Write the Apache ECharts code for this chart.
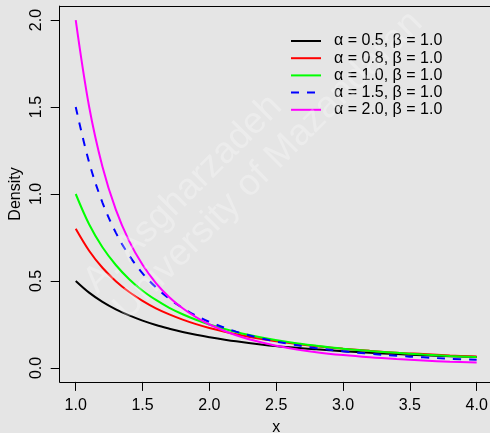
<!DOCTYPE html>
<html>
<head>
<meta charset="utf-8">
<script src="https://cdn.jsdelivr.net/npm/echarts@6/dist/echarts.min.js"></script>
<style>
  html, body { margin: 0; padding: 0; background: #e5e5e5; }
  #chart { width: 490px; height: 433px; }
</style>
</head>
<body>
<div id="chart"></div>
<script>
// Pareto densities, beta = 1, sampled along x
const xValues = [1.0, 1.1, 1.2, 1.3, 1.4, 1.5, 1.6, 1.7, 1.8, 1.9, 2.0,
                 2.2, 2.4, 2.6, 2.8, 3.0, 3.2, 3.4, 3.6, 3.8, 4.0];

const densA05 = [0.500, 0.433, 0.380, 0.337, 0.302, 0.272, 0.247, 0.226, 0.207, 0.191, 0.177,
                 0.153, 0.134, 0.119, 0.107, 0.096, 0.087, 0.080, 0.073, 0.067, 0.063];
const densA08 = [0.800, 0.674, 0.576, 0.499, 0.437, 0.386, 0.343, 0.308, 0.278, 0.252, 0.230,
                 0.194, 0.165, 0.143, 0.125, 0.111, 0.099, 0.088, 0.080, 0.072, 0.066];
const densA10 = [1.000, 0.826, 0.694, 0.592, 0.510, 0.444, 0.391, 0.346, 0.309, 0.277, 0.250,
                 0.207, 0.174, 0.148, 0.128, 0.111, 0.098, 0.087, 0.077, 0.069, 0.063];
const densA15 = [1.500, 1.182, 0.951, 0.778, 0.647, 0.544, 0.463, 0.398, 0.345, 0.301, 0.265,
                 0.209, 0.168, 0.138, 0.114, 0.096, 0.082, 0.070, 0.061, 0.053, 0.047];
const densA20 = [2.000, 1.503, 1.157, 0.910, 0.729, 0.593, 0.488, 0.407, 0.343, 0.292, 0.250,
                 0.188, 0.145, 0.114, 0.091, 0.074, 0.061, 0.051, 0.043, 0.036, 0.031];

const seriesNames = ['α = 0.5, β = 1.0', 'α = 0.8, β = 1.0', 'α = 1.0, β = 1.0',
                     'α = 1.5, β = 1.0', 'α = 2.0, β = 1.0'];
const seriesValues = [densA05, densA08, densA10, densA15, densA20];
const seriesColors = ['#000000', '#ff0000', '#00ff00', '#0000ff', '#ff00ff'];
const seriesDash = ['solid', 'solid', 'solid', [8, 8], 'solid'];

const xTicks = [1.0, 1.5, 2.0, 2.5, 3.0, 3.5, 4.0];
const yTicks = [0.0, 0.5, 1.0, 1.5, 2.0];

const watermarkLines = ['A. Asgharzadeh', 'University of Mazandaran'];

const FONT = '"Liberation Sans", Arial, Helvetica, sans-serif';
const X_MIN = 0.88, X_MAX = 4.12, Y_MIN = -0.08, Y_MAX = 2.08;

const chart = echarts.init(document.getElementById('chart'), null, { renderer: 'canvas' });

const series = seriesValues.map((vals, i) => ({
  name: seriesNames[i],
  type: 'line',
  xAxisIndex: 0, yAxisIndex: 0,
  data: xValues.map((x, j) => [x, vals[j]]),
  showSymbol: false,
  symbol: 'none',
  smooth: 0.35,
  lineStyle: { color: seriesColors[i], width: 2, type: seriesDash[i] },
  itemStyle: { color: seriesColors[i] },
  emphasis: { disabled: true },
  z: 2
}));

const boxLine = { show: true, onZero: false, lineStyle: { color: '#000', width: 1 } };

chart.setOption({
  backgroundColor: '#e5e5e5',
  animation: false,
  textStyle: { fontFamily: FONT },
  grid: {
    left: 59.7, top: 6.1, width: 433, height: 375.8,
    outerBoundsMode: 'none',
    containLabel: false,
    show: false
  },
  legend: {
    orient: 'vertical',
    left: 290, top: 33,
    padding: 0,
    itemWidth: 30, itemHeight: 14, itemGap: 1.2,
    itemStyle: { opacity: 0 },
    textStyle: { fontSize: 16, color: '#000', fontFamily: FONT, lineHeight: 16, padding: [0, 0, 0, 8] },
    data: seriesNames,
    selectedMode: false
  },
  xAxis: [
    {
      type: 'value', min: X_MIN, max: X_MAX, position: 'bottom',
      name: 'x', nameLocation: 'middle', nameGap: 38, nameMoveOverlap: false,
      nameTextStyle: { fontSize: 16, color: '#000', fontFamily: FONT },
      axisLine: boxLine,
      axisTick: { show: true, length: 9, customValues: xTicks, lineStyle: { color: '#000', width: 1 } },
      axisLabel: {
        customValues: xTicks, formatter: v => v.toFixed(1),
        fontSize: 16, color: '#000', margin: 16, fontFamily: FONT
      },
      splitLine: { show: false }
    },
    {
      // top edge of the plot frame
      type: 'value', min: X_MIN, max: X_MAX, position: 'top',
      axisLine: boxLine, axisTick: { show: false }, axisLabel: { show: false },
      splitLine: { show: false }
    }
  ],
  yAxis: [
    {
      type: 'value', min: Y_MIN, max: Y_MAX, position: 'left',
      name: 'Density', nameLocation: 'middle', nameGap: 36, nameRotate: 90, nameMoveOverlap: false,
      nameTextStyle: { fontSize: 16, color: '#000', fontFamily: FONT },
      axisLine: boxLine,
      axisTick: { show: true, length: 9, customValues: yTicks, lineStyle: { color: '#000', width: 1 } },
      axisLabel: {
        customValues: yTicks, formatter: v => v.toFixed(1), rotate: 90,
        fontSize: 16, color: '#000', margin: 15, fontFamily: FONT
      },
      splitLine: { show: false }
    }
  ],
  graphic: [
    {
      type: 'text', x: 90, y: 287, rotation: Math.PI / 4, z: 100, silent: true,
      style: { text: watermarkLines[0], font: '37px ' + FONT, fill: 'rgba(255,255,255,0.28)',
               align: 'left', verticalAlign: 'middle' }
    },
    {
      type: 'text', x: 120, y: 314, rotation: Math.PI / 4, z: 100, silent: true,
      style: { text: watermarkLines[1], font: '37px ' + FONT, fill: 'rgba(255,255,255,0.28)',
               align: 'left', verticalAlign: 'middle' }
    }
  ],
  series: series
});
</script>
</body>
</html>
